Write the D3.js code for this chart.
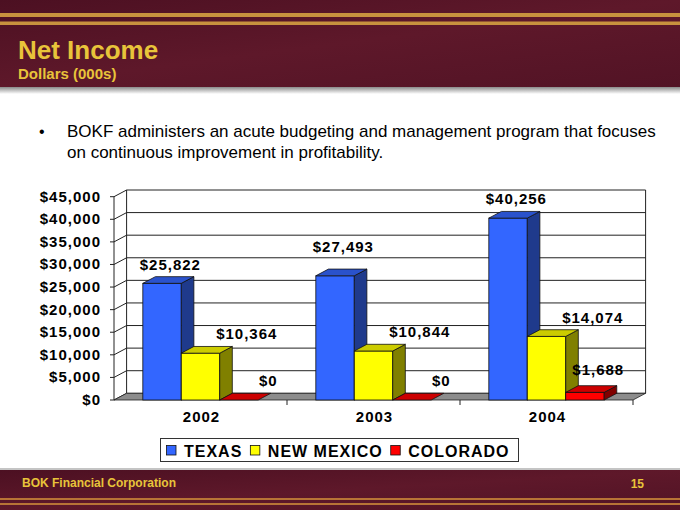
<!DOCTYPE html>
<html lang="en">
<head>
<meta charset="UTF-8">
<title>Net Income</title>
<script src="https://cdn.jsdelivr.net/npm/d3@7"></script>
<style>
    body { margin: 0; background: #fff; }
    svg { display: block; font-family: "Liberation Sans", Arial, sans-serif; }
</style>
</head>
<body>
<svg width="680" height="510"></svg>
<script>
    // chart data
    const years = ["2002", "2003", "2004"];
    const seriesNames = ["TEXAS", "NEW MEXICO", "COLORADO"];
    const texas = [25822, 27493, 40256];
    const newMexico = [10364, 10844, 14074];
    const colorado = [0, 0, 1688];
    const yTicks = [0, 5000, 10000, 15000, 20000, 25000, 30000, 35000, 40000, 45000];

    const values = [texas, newMexico, colorado];

    // face colours: front, top, side
    const faces = [
        ["#3366ff", "#2a52cc", "#1f3a8c"],
        ["#ffff00", "#cccc00", "#808000"],
        ["#ff0000", "#cc0000", "#800000"]
    ];

    const svg = d3.select("svg");
    const fmt = d3.format("$,");

    // ---------- slide background ----------
    const defs = svg.append("defs");
    const bg = defs.append("linearGradient").attr("id", "maroon")
        .attr("x1", 0).attr("y1", 0).attr("x2", 1).attr("y2", 1);
    bg.append("stop").attr("offset", "0%").attr("stop-color", "#4c1022");
    bg.append("stop").attr("offset", "50%").attr("stop-color", "#5e182a");
    bg.append("stop").attr("offset", "100%").attr("stop-color", "#521325");

    const shade = defs.append("linearGradient").attr("id", "shade")
        .attr("x1", 0).attr("y1", 0).attr("x2", 0).attr("y2", 1);
    shade.append("stop").attr("offset", "0%").attr("stop-color", "#8a8a8a");
    shade.append("stop").attr("offset", "100%").attr("stop-color", "#ffffff");

    // header
    svg.append("rect").attr("x", 0).attr("y", 0).attr("width", 680).attr("height", 87)
        .attr("fill", "url(#maroon)");
    svg.append("rect").attr("x", 0).attr("y", 87).attr("width", 680).attr("height", 7)
        .attr("fill", "url(#shade)");
    svg.append("rect").attr("x", 0).attr("y", 13).attr("width", 680).attr("height", 4).attr("fill", "#c8923e");
    svg.append("rect").attr("x", 0).attr("y", 21.5).attr("width", 680).attr("height", 3.5).attr("fill", "#c8923e");

    svg.append("text").attr("x", 18).attr("y", 59)
        .attr("font-size", 26).attr("font-weight", "bold").attr("fill", "#e8c43a")
        .text("Net Income");
    svg.append("text").attr("x", 18).attr("y", 79)
        .attr("font-size", 15).attr("font-weight", "bold").attr("fill", "#e8c43a")
        .text("Dollars (000s)");

    // footer
    svg.append("rect").attr("x", 0).attr("y", 468).attr("width", 680).attr("height", 2).attr("fill", "#c4c4c4");
    svg.append("rect").attr("x", 0).attr("y", 470).attr("width", 680).attr("height", 40)
        .attr("fill", "url(#maroon)");
    svg.append("rect").attr("x", 0).attr("y", 498).attr("width", 680).attr("height", 2).attr("fill", "#b87436");
    svg.append("rect").attr("x", 0).attr("y", 503).attr("width", 680).attr("height", 2).attr("fill", "#b87436");
    svg.append("text").attr("x", 22).attr("y", 487)
        .attr("font-size", 12).attr("font-weight", "bold").attr("fill", "#e8c43a")
        .text("BOK Financial Corporation");
    svg.append("text").attr("x", 644).attr("y", 488).attr("text-anchor", "end")
        .attr("font-size", 12).attr("font-weight", "bold").attr("fill", "#e8c43a")
        .text("15");

    // bullet
    svg.append("text").attr("x", 39).attr("y", 137).attr("font-size", 16).text("•");
    const bullet = svg.append("text").attr("font-size", 17).attr("fill", "#000");
    bullet.append("tspan").attr("x", 67).attr("y", 137)
        .text("BOKF administers an acute budgeting and management program that focuses");
    bullet.append("tspan").attr("x", 67).attr("y", 158)
        .text("on continuous improvement in profitability.");

    // ---------- 3D column chart ----------
    const dx = 12.6, dy = -6.7;   // depth offset of the back wall
    const x0 = d3.scaleBand().domain(years).range([114, 633]);
    const x1 = d3.scaleBand().domain(seriesNames).range([0, x0.bandwidth()]).paddingOuter(0.75);
    const y = d3.scaleLinear().domain([0, 45000]).range([400, 196.7]);
    const bw = x1.bandwidth();
    const right = 633;

    const chart = svg.append("g");

    // back wall gridlines
    chart.append("g").selectAll("line").data(yTicks).join("line")
        .attr("x1", 114 + dx).attr("x2", right + dx)
        .attr("y1", d => y(d) + dy).attr("y2", d => y(d) + dy)
        .attr("stroke", "#222").attr("stroke-width", 1);
    chart.append("line").attr("x1", 114 + dx).attr("x2", 114 + dx)
        .attr("y1", y(45000) + dy).attr("y2", y(0) + dy).attr("stroke", "#222");
    chart.append("line").attr("x1", right + dx).attr("x2", right + dx)
        .attr("y1", y(45000) + dy).attr("y2", y(0) + dy).attr("stroke", "#222");

    // side wall diagonals and front axis
    chart.append("g").selectAll("path").data(yTicks).join("path")
        .attr("d", d => `M110,${y(d)}L114,${y(d)}L${114 + dx},${y(d) + dy}`)
        .attr("fill", "none").attr("stroke", "#222");
    chart.append("line").attr("x1", 114).attr("x2", 114)
        .attr("y1", y(45000)).attr("y2", y(0)).attr("stroke", "#222");

    // floor
    chart.append("path")
        .attr("d", `M114,${y(0)}L${right},${y(0)}L${right + dx},${y(0) + dy}L${114 + dx},${y(0) + dy}Z`)
        .attr("fill", "#8c8c8c").attr("stroke", "#222").attr("stroke-width", 0.8);

    // x ticks
    chart.append("g").selectAll("line").data(years.slice(1).concat(["end"])).join("line")
        .attr("x1", d => d === "end" ? right : x0(d)).attr("x2", d => d === "end" ? right : x0(d))
        .attr("y1", y(0)).attr("y2", y(0) + 5).attr("stroke", "#222");

    // y labels
    chart.append("g").selectAll("text").data(yTicks).join("text")
        .attr("x", 101).attr("y", d => y(d) + 5)
        .attr("text-anchor", "end").attr("font-size", 15).attr("font-weight", "bold")
        .attr("letter-spacing", 1).text(d => fmt(d));

    // x labels
    chart.append("g").selectAll("text").data(years).join("text")
        .attr("x", d => x0(d) + x0.bandwidth() / 2 + 1).attr("y", 422)
        .attr("text-anchor", "middle").attr("font-size", 15).attr("font-weight", "bold")
        .attr("letter-spacing", 1).text(d => d);

    // bars, drawn left to right so each covers the side of the previous one
    const bars = [];
    years.forEach((yr, i) => {
        seriesNames.forEach((s, j) => {
            bars.push({ year: yr, series: s, j: j, v: values[j][i] });
        });
    });

    const bar = chart.append("g").selectAll("g").data(bars).join("g");
    bar.each(function (d) {
        const g = d3.select(this);
        const xl = x0(d.year) + x1(d.series);
        const xr = xl + bw;
        const yt = y(d.v), yb = y(0);
        const c = faces[d.j];
        if (d.v > 0) {
            g.append("rect").attr("x", xl).attr("y", yt).attr("width", bw).attr("height", yb - yt)
                .attr("fill", c[0]).attr("stroke", "#111").attr("stroke-width", 0.8);
            g.append("path")
                .attr("d", `M${xr},${yt}L${xr + dx},${yt + dy}L${xr + dx},${yb + dy}L${xr},${yb}Z`)
                .attr("fill", c[2]).attr("stroke", "#111").attr("stroke-width", 0.8);
        }
        g.append("path")
            .attr("d", `M${xl},${yt}L${xl + dx},${yt + dy}L${xr + dx},${yt + dy}L${xr},${yt}Z`)
            .attr("fill", c[1]).attr("stroke", "#111").attr("stroke-width", 0.8);
    });

    // value labels (placement follows the slide's hand-placed labels)
    const labelShift = d => d.j === 0 ? 2 : d.j === 1 ? 40 : (d.v === 0 ? 23 : 7);
    const labelLift = d => (d.j === 0 && d.year === "2003") ? 17 : (d.j === 2 && d.v > 0) ? 11 : 7;
    chart.append("g").selectAll("text").data(bars).join("text")
        .attr("x", d => x0(d.year) + x1(d.series) + bw / 2 + dx / 2 + labelShift(d))
        .attr("y", d => y(d.v) + dy - labelLift(d))
        .attr("text-anchor", "middle").attr("font-size", 15).attr("font-weight", "bold")
        .attr("letter-spacing", 1).text(d => fmt(d.v));

    // legend
    const legend = svg.append("g");
    legend.append("rect").attr("x", 160.5).attr("y", 438.5).attr("width", 358).attr("height", 23)
        .attr("fill", "#fff").attr("stroke", "#333").attr("stroke-width", 1);
    let lx = 166.5;
    seriesNames.forEach((s, j) => {
        legend.append("rect").attr("x", lx).attr("y", 445.5).attr("width", 9.5).attr("height", 9.5)
            .attr("fill", faces[j][0]).attr("stroke", "#111").attr("stroke-width", 0.8);
        const t = legend.append("text").attr("x", lx + 17.5).attr("y", 456.5)
            .attr("font-size", 16).attr("font-weight", "bold").attr("letter-spacing", 1)
            .text(s);
        lx += 17.5 + t.node().getComputedTextLength() + 8;
    });
</script>
</body>
</html>
